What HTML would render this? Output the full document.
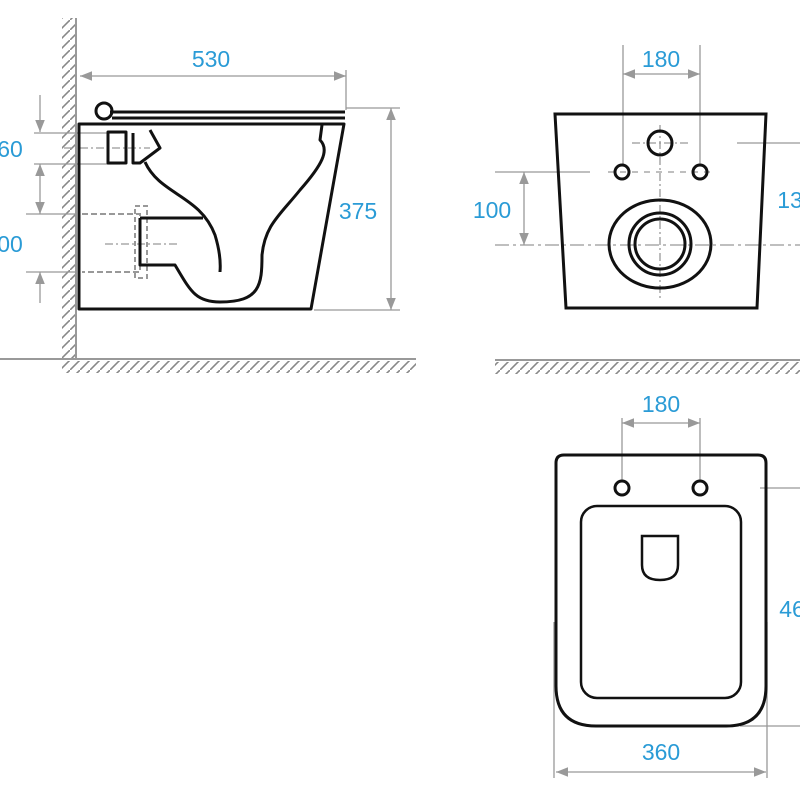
<!DOCTYPE html>
<html><head><style>body{margin:0;background:#fff}svg{display:block}text{font-family:"Liberation Sans",sans-serif;font-size:23px;fill:#2a9bd6;text-anchor:middle}</style></head>
<body>
<svg width="800" height="800" viewBox="0 0 800 800" xmlns="http://www.w3.org/2000/svg">
<defs>
<pattern id="hv" width="10" height="10" patternUnits="userSpaceOnUse"><path d="M-1,11 L11,-1" stroke="#888" stroke-width="1.6"/></pattern>
<marker id="a" viewBox="0 0 10 10" refX="10" refY="5" markerWidth="18" markerHeight="12" orient="auto-start-reverse" markerUnits="userSpaceOnUse"><path d="M0,1 L10,5 L0,9z" fill="#999"/></marker>
</defs>
<rect x="62" y="18" width="14" height="340" fill="url(#hv)"/>
<line x1="76" y1="18" x2="76" y2="360" stroke="#999" stroke-width="2"/>
<rect x="62" y="361" width="354" height="12" fill="url(#hv)"/>
<line x1="0" y1="359" x2="416" y2="359" stroke="#999" stroke-width="2"/>
<rect x="495" y="362" width="305" height="12" fill="url(#hv)"/>
<line x1="495" y1="360" x2="800" y2="360" stroke="#999" stroke-width="2"/>
<g stroke="#999" stroke-width="1.3" fill="none">
<line x1="80" y1="76" x2="346" y2="76" marker-start="url(#a)" marker-end="url(#a)"/>
<line x1="346" y1="70" x2="346" y2="110"/>
<line x1="346" y1="108" x2="400" y2="108"/>
<line x1="314" y1="310" x2="400" y2="310"/>
<line x1="391" y1="108" x2="391" y2="310" marker-start="url(#a)" marker-end="url(#a)"/>
<line x1="40" y1="95" x2="40" y2="132" marker-end="url(#a)"/>
<line x1="40" y1="164" x2="40" y2="214" marker-start="url(#a)" marker-end="url(#a)"/>
<line x1="40" y1="272" x2="40" y2="303" marker-start="url(#a)"/>
<line x1="34" y1="133" x2="120" y2="133"/>
<line x1="34" y1="164" x2="120" y2="164"/>
<line x1="26" y1="214" x2="76" y2="214"/>
<line x1="26" y1="272" x2="76" y2="272"/>
<line x1="64" y1="148" x2="150" y2="148" stroke-dasharray="8,3,2,3"/>
<line x1="105" y1="244" x2="180" y2="244" stroke-dasharray="8,3,2,3"/>
<path d="M82,214 H140 V272 H82" stroke-dasharray="6,3" stroke-width="2"/>
<rect x="135" y="206" width="12" height="72" stroke-dasharray="5,3" stroke-width="2"/>
</g>
<g stroke="#111" stroke-width="3" fill="none" stroke-linejoin="round">
<path d="M79,124 H344 L311,309 H79 Z"/>
<line x1="110" y1="112" x2="345" y2="112"/><line x1="112" y1="118" x2="345" y2="118"/>
<circle cx="104" cy="111" r="8"/>
<path d="M108,132 H126 V163 H108 Z M133,133 V163 H140 L160,148 L150,130"/>
<path d="M145,162 C160,195 200,195 215,235 C222,258 220,270 220,272"/>
<path d="M140,218 H203 M140,218 V265 H175 C190,290 195,302 220,302 C260,302 262,285 262,255 C265,225 280,215 300,190 C322,165 330,150 320,140 L322,125"/>
</g>
<text x="211" y="67">530</text>
<text x="358" y="219">375</text>
<text x="10" y="157">60</text>
<text x="10" y="252">00</text>
<g stroke="#999" stroke-width="1.3" fill="none">
<line x1="623" y1="45" x2="623" y2="166"/><line x1="700" y1="45" x2="700" y2="166"/>
<line x1="623" y1="74" x2="700" y2="74" marker-start="url(#a)" marker-end="url(#a)"/>
<line x1="495" y1="172" x2="590" y2="172"/>
<line x1="495" y1="245" x2="800" y2="245" stroke-dasharray="14,4,3,4"/>
<line x1="524" y1="172" x2="524" y2="245" marker-start="url(#a)" marker-end="url(#a)"/>
<line x1="737" y1="143" x2="800" y2="143"/>
<line x1="632" y1="143" x2="690" y2="143" stroke-dasharray="8,3,2,3"/>
<line x1="660" y1="125" x2="660" y2="300" stroke-dasharray="8,3,2,3"/>
<line x1="608" y1="172" x2="715" y2="172" stroke-dasharray="6,6"/>
</g>
<g stroke="#111" stroke-width="3" fill="none">
<path d="M555,114 H766 L757,308 H566 Z"/>
<circle cx="660" cy="143" r="12"/><circle cx="622" cy="172" r="7"/><circle cx="700" cy="172" r="7"/>
<ellipse cx="660" cy="244" rx="51" ry="44"/><circle cx="660" cy="244" r="31"/><circle cx="660" cy="244" r="25"/>
</g>
<text x="661" y="67">180</text>
<text x="492" y="218">100</text>
<text x="790" y="208">13</text>
<g stroke="#999" stroke-width="1.3" fill="none">
<line x1="622" y1="418" x2="622" y2="482"/><line x1="700" y1="418" x2="700" y2="482"/>
<line x1="622" y1="423" x2="700" y2="423" marker-start="url(#a)" marker-end="url(#a)"/>
<line x1="760" y1="488" x2="800" y2="488"/><line x1="740" y1="726" x2="800" y2="726"/>
<line x1="554" y1="622" x2="554" y2="778"/><line x1="767" y1="622" x2="767" y2="778"/>
<line x1="556" y1="772" x2="766" y2="772" marker-start="url(#a)" marker-end="url(#a)"/>
</g>
<g stroke="#111" stroke-width="3" fill="none">
<path d="M564,455 H758 Q766,455 766,463 V686 Q766,726 726,726 H596 Q556,726 556,686 V463 Q556,455 564,455 Z"/>
<rect x="581" y="506" width="160" height="192" rx="16" stroke-width="2.5"/>
<path d="M642,536 H678 V565 Q678,580 660,580 Q642,580 642,565 Z" stroke-width="2.5"/>
<circle cx="622" cy="488" r="7"/><circle cx="700" cy="488" r="7"/>
</g>
<text x="661" y="412">180</text>
<text x="661" y="760">360</text>
<text x="792" y="617">46</text>
</svg>
</body></html>
